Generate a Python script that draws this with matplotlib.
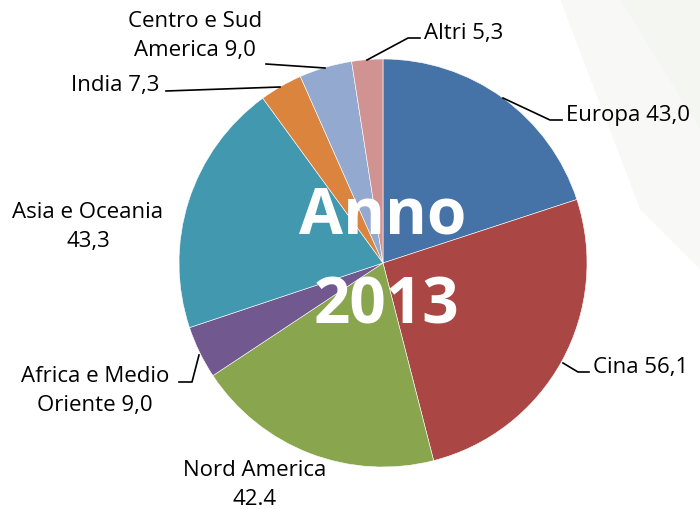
import matplotlib.pyplot as plt
from matplotlib.patches import Polygon

# quote per area, anno 2013
regioni = ["Europa", "Cina", "Nord America", "Africa e Medio Oriente",
           "Asia e Oceania", "India", "Centro e Sud America", "Altri"]
valori = [43.0, 56.1, 42.4, 9.0, 43.3, 7.3, 9.0, 5.3]
etichette = ["Europa 43,0", "Cina 56,1", "Nord America\n42.4",
             "Africa e Medio\nOriente 9,0", "Asia e Oceania\n43,3",
             "India 7,3", "Centro e Sud\nAmerica 9,0", "Altri 5,3"]
colori = ["#4573a7", "#aa4644", "#89a54e", "#71588f", "#4298af",
          "#db843d", "#93a9cf", "#d19392"]

fig = plt.figure(figsize=(7, 5.1), dpi=100)
ax = fig.add_axes([0, 0, 1, 1])

# faint background shapes top right
ax.add_patch(Polygon([(560, 510), (700, 510), (700, 240), (640, 300)],
                     closed=True, color="#f8f9f7", zorder=0, lw=0))
ax.add_patch(Polygon([(620, 510), (700, 510), (700, 380)],
                     closed=True, color="#f4f6f2", zorder=0, lw=0))

cx, cy, r = 383, 510 - 264, 204
ax.pie(valori, colors=colori, startangle=90, counterclock=False,
       center=(cx, cy), radius=r, frame=True,
       wedgeprops=dict(edgecolor="white", linewidth=0.4))
ax.set_xlim(0, 700)
ax.set_ylim(0, 510)
ax.set_aspect("equal")
ax.axis("off")

fnt = "Open Sans"
fs = 16

def Y(py):
    return 510 - py

# leader lines (pixel coords from the top)
linee = {
    0: [(503, 99), (550, 121), (562, 121)],
    1: [(563, 364), (578, 373), (589, 373)],
    3: [(199, 356), (192, 383), (179, 383)],
    5: [(280, 88), (166, 92)],
    6: [(325, 69), (266, 65)],
    7: [(367, 61), (408, 39), (420, 39)],
}
for i, pts in linee.items():
    ax.plot([p[0] for p in pts], [Y(p[1]) for p in pts], color="black", lw=1.2)

pos = {
    0: (566, 115, "left"),
    1: (593, 367, "left"),
    2: (255, 485, "center"),
    3: (95, 391, "center"),
    4: (88, 227, "center"),
    5: (159, 86, "right"),
    6: (195, 36, "center"),
    7: (424, 33, "left"),
}
for i, (x, y, ha) in pos.items():
    ax.text(x, Y(y), etichette[i], ha=ha, va="center", fontsize=fs,
            family=fnt, linespacing=1.45, multialignment="center")

ax.text(cx, Y(217), "Anno", ha="center", va="center", color="white",
        fontsize=46, fontweight="bold", family=fnt)
ax.text(cx + 3, Y(307), "2013", ha="center", va="center", color="white",
        fontsize=46, fontweight="bold", family=fnt)

fig.savefig("out.png", dpi=100, facecolor="white")
